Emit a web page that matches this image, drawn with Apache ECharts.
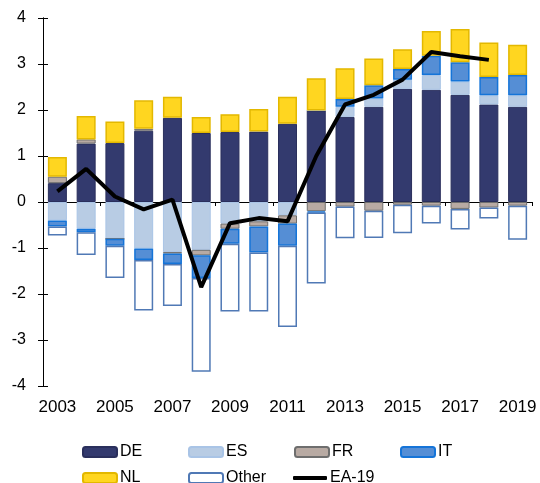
<!DOCTYPE html>
<html>
<head>
<meta charset="utf-8">
<script src="https://cdn.jsdelivr.net/npm/echarts@6/dist/echarts.min.js"></script>
<style>
  html, body { margin: 0; padding: 0; background: #fff; }
  #chart { width: 540px; height: 483px; }
</style>
</head>
<body>
<div id="chart"></div>
<script>
// 数据
const years = ['2003','2004','2005','2006','2007','2008','2009','2010','2011','2012','2013','2014','2015','2016','2017','2018','2019'];
const deData = [0.41, 1.27, 1.28, 1.55, 1.83, 1.50, 1.52, 1.53, 1.70, 1.99, 1.85, 2.07, 2.46, 2.44, 2.33, 2.12, 2.07];
const esData = [-0.40, -0.58, -0.80, -1.01, -1.09, -1.04, -0.47, -0.42, -0.29, 0, 0.22, 0.18, 0.20, 0.32, 0.29, 0.20, 0.25];
const frData = [0.14, 0.09, 0, 0.04, -0.03, -0.12, -0.11, -0.11, -0.18, -0.20, -0.10, -0.19, -0.06, -0.08, -0.15, -0.12, -0.08];
const itData = [-0.13, -0.08, -0.15, -0.25, -0.23, -0.49, -0.33, -0.57, -0.48, -0.03, 0.17, 0.29, 0.23, 0.42, 0.42, 0.40, 0.44];
const nlData = [0.43, 0.51, 0.47, 0.62, 0.46, 0.35, 0.39, 0.49, 0.59, 0.70, 0.67, 0.58, 0.43, 0.54, 0.72, 0.75, 0.66];
const otherData = [-0.20, -0.49, -0.70, -1.10, -0.91, -2.04, -1.47, -1.28, -1.77, -1.54, -0.69, -0.59, -0.62, -0.39, -0.45, -0.24, -0.74];
const ea19Data = [0.23, 0.72, 0.12, -0.16, 0.05, -1.85, -0.46, -0.35, -0.42, 1.0, 2.12, 2.33, 2.66, 3.26, 3.17, 3.09, null];

const chart = echarts.init(document.getElementById('chart'));
const font = 'Liberation Sans, Arial, sans-serif';

function bar(name, data, fill, border, bw) {
    return {
        name: name,
        type: 'bar',
        stack: 'total',
        barWidth: 19,
        data: data,
        itemStyle: { color: fill, borderColor: border, borderWidth: bw }
    };
}

function legendItem(name, left, top, h, icon) {
    return {
        data: [icon ? { name: name, icon: icon } : name],
        left: left,
        top: top,
        itemWidth: 34,
        itemHeight: h || 10,
        itemGap: 0,
        padding: 0,
        selectedMode: false,
        textStyle: { fontFamily: font, fontSize: 16, color: '#000', padding: [0, 0, 0, -2] }
    };
}

const option = {
    animation: false,
    grid: { left: 43, right: 8, top: 18, bottom: 97, containLabel: false },
    legend: [
        legendItem('DE', 82, 444),
        legendItem('ES', 188, 444),
        legendItem('FR', 294, 444),
        legendItem('IT', 400, 444),
        legendItem('NL', 82, 470),
        legendItem('Other', 188, 470),
        legendItem('EA-19', 293, 470, 4, 'roundRect')
    ],
    xAxis: [
        {
            type: 'category', data: years,
            axisLine: { onZero: true, onZeroAxisIndex: 0, lineStyle: { color: '#000', width: 1 } },
            axisTick: { show: true, inside: false, length: 4, lineStyle: { color: '#000' } },
            axisLabel: { show: false }
        },
        {
            type: 'category', data: years,
            axisLine: { onZero: true, onZeroAxisIndex: 0, lineStyle: { color: '#000', width: 1 } },
            axisTick: { show: true, inside: true, length: 4, lineStyle: { color: '#000' } },
            axisLabel: { show: false }
        },
        {
            type: 'category', data: years, position: 'bottom',
            axisLine: { show: false, onZero: false },
            axisTick: { show: false },
            axisLabel: { interval: 1, margin: 13, color: '#000', fontFamily: font, fontSize: 17 }
        }
    ],
    yAxis: [
        {
            type: 'value', min: -4, max: 4, interval: 1, position: 'left',
            splitLine: { show: false },
            axisLine: { show: true, lineStyle: { color: '#000' } },
            axisTick: { show: true, inside: false, length: 5, lineStyle: { color: '#000' } },
            axisLabel: { margin: 17, color: '#000', fontFamily: font, fontSize: 16 }
        },
        {
            type: 'value', min: -4, max: 4, interval: 1, position: 'left',
            splitLine: { show: false },
            axisLine: { show: true, lineStyle: { color: '#000' } },
            axisTick: { show: true, inside: true, length: 5, lineStyle: { color: '#000' } },
            axisLabel: { show: false }
        }
    ],
    series: [
        bar('DE', deData, '#333A6E', '#2A2F5C', 1),
        bar('ES', esData, '#B8CCE4', '#A9C4E6', 1),
        bar('FR', frData, '#B8AAA3', '#6E6E6E', 1),
        bar('IT', itData, '#558ED5', '#1574D8', 1.5),
        bar('NL', nlData, '#FFD620', '#E3B800', 1.5),
        bar('Other', otherData, '#FFFFFF', '#5079B5', 1.5),
        {
            name: 'EA-19',
            type: 'line',
            data: ea19Data,
            symbol: 'none',
            z: 5,
            lineStyle: { color: '#000', width: 4 },
            itemStyle: { color: '#000' }
        }
    ]
};

chart.setOption(option);
</script>
</body>
</html>
